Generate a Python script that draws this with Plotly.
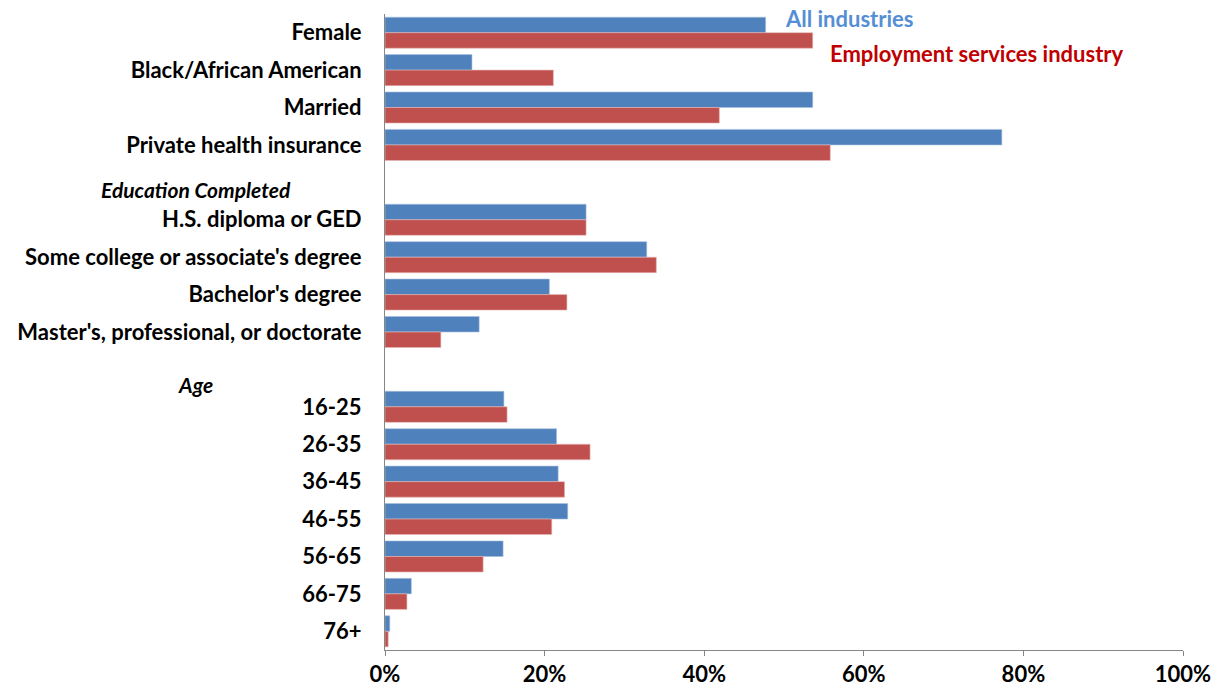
import plotly.graph_objects as go

categories = ["Female", "Black/African American", "Married", "Private health insurance",
              " ",
              "H.S. diploma or GED", "Some college or associate's degree", "Bachelor's degree",
              "Master's, professional, or doctorate",
              "  ",
              "16-25", "26-35", "36-45", "46-55", "56-65", "66-75", "76+"]
all_industries = [47.7, 10.9, 53.6, 77.3, None,
                  25.2, 32.8, 20.6, 11.8, None,
                  14.9, 21.5, 21.7, 22.9, 14.8, 3.3, 0.6]
employment_services = [53.6, 21.1, 41.9, 55.8, None,
                       25.2, 34.0, 22.8, 7.0, None,
                       15.3, 25.7, 22.5, 20.9, 12.3, 2.75, 0.4]
section_headers = ["Education Completed", "Age"]
x_ticks = [0, 20, 40, 60, 80, 100]
x_tick_labels = ["0%", "20%", "40%", "60%", "80%", "100%"]

FONT = "Lato"
BLUE = "#4F81BD"
RED = "#C0504D"

fig = go.Figure()
fig.add_trace(go.Bar(y=categories, x=all_industries, orientation="h", name="All industries",
                     marker=dict(color=BLUE, line=dict(color="#A7BFDE", width=0.6))))
fig.add_trace(go.Bar(y=categories, x=employment_services, orientation="h",
                     name="Employment services industry",
                     marker=dict(color=RED, line=dict(color="#E6B9B8", width=0.6))))

fig.update_layout(
    width=1219, height=694,
    margin=dict(l=385, r=36, t=14, b=44),
    paper_bgcolor="white", plot_bgcolor="white",
    barmode="group", bargap=0.17, bargroupgap=0,
    showlegend=False,
    font=dict(family=FONT, color="black"),
)
fig.update_xaxes(range=[0, 100], tickvals=x_ticks, ticktext=x_tick_labels,
                 showgrid=False, zeroline=False, showline=True, linecolor="#868686", linewidth=1,
                 ticks="outside", ticklen=5, tickcolor="#868686", automargin=False,
                 tickfont=dict(family=FONT, size=22, color="black", weight="bold"))
fig.update_yaxes(categoryorder="array", categoryarray=categories, autorange="reversed",
                 showgrid=False, zeroline=False, showline=True, linecolor="#868686", linewidth=1,
                 ticks="", ticklabelstandoff=18, automargin=False,
                 tickfont=dict(family=FONT, size=22, color="black", weight="bold"))

# section header labels placed at the blank category rows
fig.add_annotation(text="<i>" + section_headers[0] + "</i>", xref="paper", yref="y",
                   x=-0.237, y=categories[4], yshift=-7, showarrow=False, xanchor="center",
                   font=dict(family=FONT, size=21, color="black", weight="bold"))
fig.add_annotation(text="<i>" + section_headers[1] + "</i>", xref="paper", yref="y",
                   x=-0.237, y=categories[9], yshift=-15, showarrow=False, xanchor="center",
                   font=dict(family=FONT, size=21, color="black", weight="bold"))

# in-chart legend labels
fig.add_annotation(text="All industries", xref="paper", yref="paper", x=0.582, y=1.0,
                   yshift=-4, showarrow=False, xanchor="center", yanchor="middle",
                   font=dict(family=FONT, size=22, color="#558ED5", weight="bold"))
fig.add_annotation(text="Employment services industry", xref="paper", yref="paper", x=0.742, y=1.0,
                   yshift=-39, showarrow=False, xanchor="center", yanchor="middle",
                   font=dict(family=FONT, size=22, color="#C00000", weight="bold"))

fig.write_html("out.html", config={"displayModeBar": False},
               post_script="document.body.style.margin='0';")
